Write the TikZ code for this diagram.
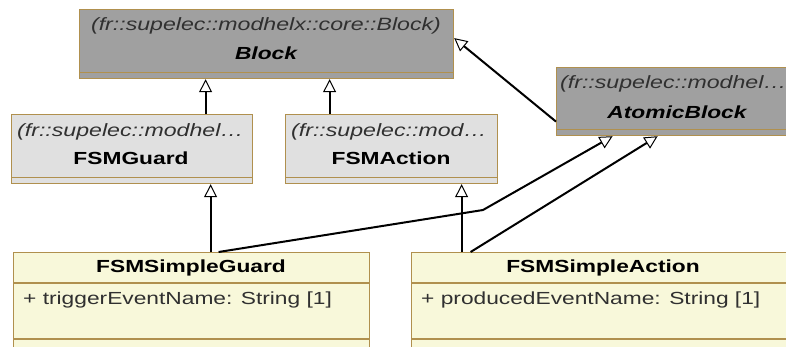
\documentclass[tikz,border=0pt]{standalone}
\usepackage{fontspec}
\setmainfont{Liberation Sans}[FakeStretch=1.3]
\usetikzlibrary{arrows.meta}
\definecolor{bord}{HTML}{B0904E}
\definecolor{darkfill}{HTML}{A0A0A0}
\definecolor{lightfill}{HTML}{E0E0E0}
\definecolor{yfill}{HTML}{F8F8DA}
\definecolor{stxt}{HTML}{303030}
\tikzset{
  cls/.style={draw=bord, line width=1.2pt, rectangle, inner sep=0pt, anchor=north west},
  sepline/.style={draw=bord, line width=1.2pt},
  gen/.style={line width=2pt, -{Triangle[open, length=13pt, width=13pt, line width=1pt]}},
  stereo/.style={font=\fontsize{17.8}{20}\selectfont\itshape, text=stxt, inner sep=0pt},
  ttl/.style={font=\fontsize{17.5}{20}\selectfont\bfseries, inner sep=0pt},
  ttli/.style={font=\fontsize{17.5}{20}\selectfont\bfseries\itshape, inner sep=0pt},
  attr/.style={font=\fontsize{17.5}{20}\selectfont, text=stxt, inner sep=0pt, anchor=west},
}
\begin{document}
\begin{tikzpicture}[x=1pt, y=-1pt]
\useasboundingbox (0,0) rectangle (786,347);
\clip (0,0) rectangle (786,347);
\fill[white] (0,0) rectangle (786,347);

% Block
\node[cls, fill=darkfill, minimum width=374pt, minimum height=69pt] (block) at (79,9) {};
\draw[sepline] ([yshift=7pt]block.south west) -- ([yshift=7pt]block.south east);
\node[stereo] (blockst) at (266,26) {(fr::supelec::modhelx::core::Block)};
\node[ttli] (blockt) at (266,53) {Block};

% AtomicBlock
\node[cls, fill=darkfill, minimum width=244pt, minimum height=68pt] (atomic) at (556,67) {};
\draw[sepline] ([yshift=7pt]atomic.south west) -- ([yshift=7pt]atomic.south east);
\node[stereo, anchor=west] (atomicst) at (560,84) {(fr::supelec::modhel…};
\node[ttli] (atomict) at (677,112) {AtomicBlock};

% FSMGuard
\node[cls, fill=lightfill, minimum width=241pt, minimum height=69pt] (guard) at (11,114) {};
\draw[sepline] ([yshift=7pt]guard.south west) -- ([yshift=7pt]guard.south east);
\node[stereo, anchor=west] (guardst) at (17,132) {(fr::supelec::modhel…};
\node[ttl] (guardt) at (131,158) {FSMGuard};

% FSMAction
\node[cls, fill=lightfill, minimum width=212pt, minimum height=69pt] (action) at (285,114) {};
\draw[sepline] ([yshift=7pt]action.south west) -- ([yshift=7pt]action.south east);
\node[stereo, anchor=west] (actionst) at (291,132) {(fr::supelec::mod…};
\node[ttl] (actiont) at (391,158) {FSMAction};

% FSMSimpleGuard
\node[cls, fill=yfill, minimum width=356pt, minimum height=110pt] (sguard) at (13,252) {};
\draw[sepline] (13,283) -- (369,283);
\draw[sepline] (13,339) -- (369,339);
\node[ttl] (sguardt) at (191,268) {FSMSimpleGuard};
\node[attr] (sguarda) at (23,300) {+ triggerEventName: String [1]};

% FSMSimpleAction
\node[cls, fill=yfill, minimum width=390pt, minimum height=110pt] (saction) at (411,252) {};
\draw[sepline] (411,283) -- (801,283);
\draw[sepline] (411,339) -- (801,339);
\node[ttl] (sactiont) at (603,268) {FSMSimpleAction};
\node[attr] (sactiona) at (421,300) {+ producedEventName: String [1]};

% connectors
\coordinate (g1) at ([xshift=78.5pt]guard.south);
\draw[gen] (g1 |- sguard.north) -- (g1);
\coordinate (a1) at ([xshift=70pt]action.south);
\draw[gen] (a1 |- saction.north) -- (a1);
\coordinate (b1) at ([xshift=73.5pt]guard.north);
\draw[gen] (b1) -- (b1 |- block.south);
\coordinate (b2) at ([xshift=-62pt]action.north);
\draw[gen] (b2) -- (b2 |- block.south);
\coordinate (ab) at ([yshift=-20pt]atomic.west);
\coordinate (bb) at ([yshift=6pt]block.east);
\draw[gen] (ab) -- (bb);
\coordinate (sg) at ([xshift=27pt]sguard.north);
\coordinate (bend) at (483,210);
\coordinate (at1) at ([xshift=-66pt]atomic.south);
\draw[gen] (sg) -- (bend) -- (at1);
\coordinate (sa) at ([xshift=-136pt]saction.north);
\coordinate (at2) at ([xshift=-21pt]atomic.south);
\draw[gen] (sa) -- (at2);
\end{tikzpicture}
\end{document}
